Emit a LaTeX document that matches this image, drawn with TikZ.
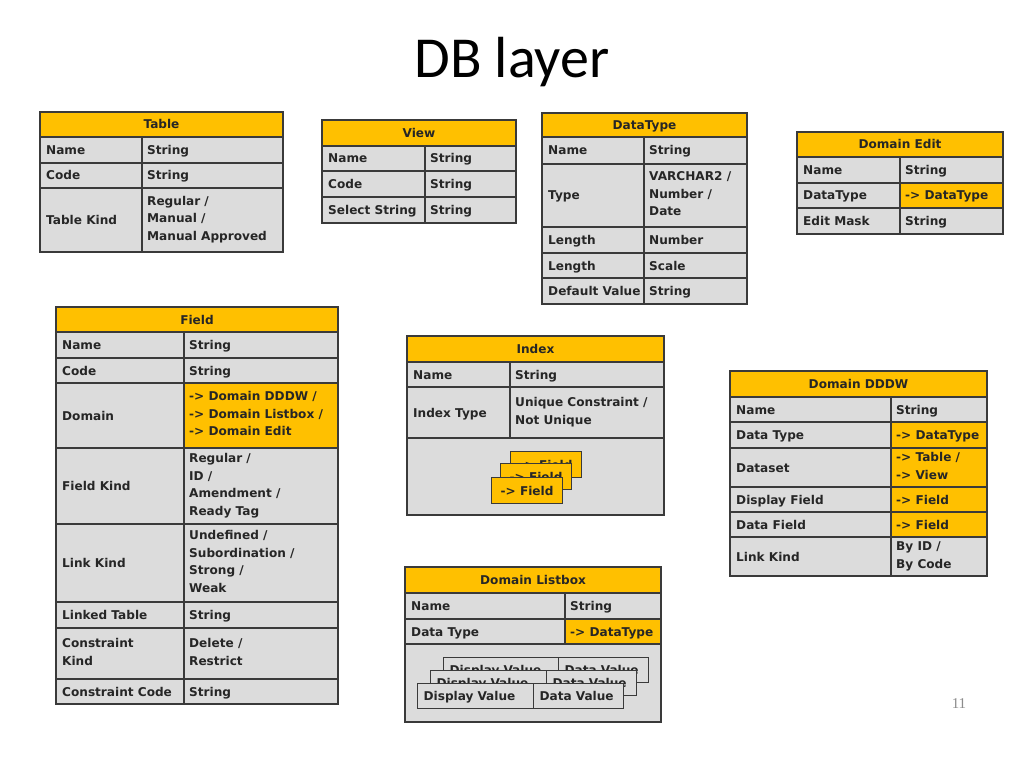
\documentclass[tikz,border=0pt]{standalone}
\usepackage{fontspec}
\setmainfont{DejaVu Sans}
\newfontfamily\titlefont{Carlito}
\newfontfamily\numfont{Liberation Serif}
\definecolor{cgray}{HTML}{DCDCDC}
\definecolor{corange}{HTML}{FFC000}
\definecolor{cline}{HTML}{3A3A3A}
\definecolor{ctext}{HTML}{262626}
\tikzset{
  tfont/.style={font=\bfseries\fontsize{12.1}{17.5}\selectfont, text=ctext},
  lbl/.style={tfont, anchor=west, inner sep=0pt, align=left, execute at begin node=\strut, execute at end node=\strut},
  hdrtxt/.style={tfont, inner sep=0pt, execute at begin node=\strut, execute at end node=\strut},
  sep/.style={draw=cline, line width=1.3pt},
  frame/.style={draw=cline, line width=1.4pt},
  fchip/.style={tfont, draw=cline, line width=1.2pt, fill=corange, minimum width=71pt, minimum height=26pt, anchor=north west, inner sep=0pt},
  dchip/.style={tfont, draw=cline, line width=1.2pt, fill=cgray, minimum height=25pt, anchor=north west, inner sep=0pt, inner xsep=6pt, text depth=0pt},
}
% header row: id, x1, x2, y1, y2, text
\newcommand\hrow[6]{%
  \path[fill=corange] (#2,#4) rectangle (#3,#5);
  \node[hdrtxt] (#1) at ({(#2+#3)/2},{(#4+#5)/2+1}) {#6};
  \draw[sep] (#2,#5) -- (#3,#5);
}
% data row: id, x1, xs, x2, y1, y2, left, right, right fill
\newcommand\drow[9]{%
  \path[fill=cgray] (#2,#5) rectangle (#3,#6);
  \path[fill=#9] (#3,#5) rectangle (#4,#6);
  \node[lbl] (#1-k) at (#2+6,{(#5+#6)/2+1}) {#7};
  \node[lbl] (#1-v) at (#3+5,{(#5+#6)/2+1}) {#8};
  \draw[sep] (#3,#5) -- (#3,#6);
  \draw[sep] (#2,#5) -- (#4,#5);
}
% outer frame: x1, x2, y1, y2
\newcommand\frm[4]{\draw[frame] (#1,#3) rectangle (#2,#4);}
\begin{document}
\begin{tikzpicture}[x=1pt,y=-1pt]
\useasboundingbox (0,0) rectangle (1024,767);
\fill[white] (0,0) rectangle (1024,767);

\node[anchor=base, inner sep=0pt, font=\titlefont\fontsize{58}{62}\selectfont, text=black] (title) at (512,78) {DB layer};
\node[anchor=base, inner sep=0pt, font=\numfont\fontsize{15}{17}\selectfont, text=black!45] (pagenum) at (959,708) {11};

% Table
\hrow{tbl}{40}{283}{112}{137}{Table}
\drow{tbl1}{40}{142}{283}{137}{163}{Name}{String}{cgray}
\drow{tbl2}{40}{142}{283}{163}{188}{Code}{String}{cgray}
\drow{tbl3}{40}{142}{283}{188}{252}{Table Kind}{Regular /\\Manual /\\Manual Approved}{cgray}
\frm{40}{283}{112}{252}

% View
\hrow{view}{322}{516}{120}{146}{View}
\drow{view1}{322}{425}{516}{146}{171}{Name}{String}{cgray}
\drow{view2}{322}{425}{516}{171}{197}{Code}{String}{cgray}
\drow{view3}{322}{425}{516}{197}{223}{Select String}{String}{cgray}
\frm{322}{516}{120}{223}

% DataType
\hrow{dt}{542}{747}{113}{137}{DataType}
\drow{dt1}{542}{644}{747}{137}{164}{Name}{String}{cgray}
\drow{dt2}{542}{644}{747}{164}{227}{Type}{VARCHAR2 /\\Number /\\Date}{cgray}
\drow{dt3}{542}{644}{747}{227}{253}{Length}{Number}{cgray}
\drow{dt4}{542}{644}{747}{253}{278}{Length}{Scale}{cgray}
\drow{dt5}{542}{644}{747}{278}{304}{Default Value}{String}{cgray}
\frm{542}{747}{113}{304}

% Domain Edit
\hrow{de}{797}{1003}{132}{157}{Domain Edit}
\drow{de1}{797}{900}{1003}{157}{183}{Name}{String}{cgray}
\drow{de2}{797}{900}{1003}{183}{208}{DataType}{-> DataType}{corange}
\drow{de3}{797}{900}{1003}{208}{234}{Edit Mask}{String}{cgray}
\frm{797}{1003}{132}{234}

% Field
\hrow{fld}{56}{338}{307}{332}{Field}
\drow{fld1}{56}{184}{338}{332}{358}{Name}{String}{cgray}
\drow{fld2}{56}{184}{338}{358}{383}{Code}{String}{cgray}
\drow{fld3}{56}{184}{338}{383}{448}{Domain}{-> Domain DDDW /\\-> Domain Listbox /\\-> Domain Edit}{corange}
\drow{fld4}{56}{184}{338}{448}{524}{Field Kind}{Regular /\\ID /\\Amendment /\\Ready Tag}{cgray}
\drow{fld5}{56}{184}{338}{524}{602}{Link Kind}{Undefined /\\Subordination /\\Strong /\\Weak}{cgray}
\drow{fld6}{56}{184}{338}{602}{628}{Linked Table}{String}{cgray}
\drow{fld7}{56}{184}{338}{628}{679}{Constraint\\Kind}{Delete /\\Restrict}{cgray}
\drow{fld8}{56}{184}{338}{679}{704}{Constraint Code}{String}{cgray}
\frm{56}{338}{307}{704}

% Index
\hrow{idx}{407}{664}{336}{362}{Index}
\drow{idx1}{407}{510}{664}{362}{387}{Name}{String}{cgray}
\drow{idx2}{407}{510}{664}{387}{438}{Index Type}{Unique Constraint /\\Not Unique}{cgray}
\path[fill=cgray] (407,438) rectangle (664,515);
\draw[sep] (407,438) -- (664,438);
\node[fchip] (idxc3) at (510,451) {-> Field};
\node[fchip] (idxc2) at (500,463) {-> Field};
\node[fchip] (idxc1) at (491,477) {-> Field};
\frm{407}{664}{336}{515}

% Domain DDDW
\hrow{dd}{730}{987}{371}{397}{Domain DDDW}
\drow{dd1}{730}{891}{987}{397}{422}{Name}{String}{cgray}
\drow{dd2}{730}{891}{987}{422}{448}{Data Type}{-> DataType}{corange}
\drow{dd3}{730}{891}{987}{448}{487}{Dataset}{-> Table /\\-> View}{corange}
\drow{dd4}{730}{891}{987}{487}{512}{Display Field}{-> Field}{corange}
\drow{dd5}{730}{891}{987}{512}{537}{Data Field}{-> Field}{corange}
\drow{dd6}{730}{891}{987}{537}{576}{Link Kind}{By ID /\\By Code}{cgray}
\frm{730}{987}{371}{576}

% Domain Listbox
\hrow{lb}{405}{661}{567}{593}{Domain Listbox}
\drow{lb1}{405}{565}{661}{593}{619}{Name}{String}{cgray}
\drow{lb2}{405}{565}{661}{619}{644}{Data Type}{-> DataType}{corange}
\path[fill=cgray] (405,644) rectangle (661,722);
\draw[sep] (405,644) -- (661,644);
\node[dchip, minimum width=115pt, text width=103pt] (lbd3) at (443,657) {Display Value};
\node[dchip, minimum width=90pt, text width=78pt, inner xsep=5pt] (lbv3) at (558,657) {Data Value};
\node[dchip, minimum width=116pt, text width=104pt] (lbd2) at (430,670) {Display Value};
\node[dchip, minimum width=90pt, text width=78pt, inner xsep=5pt] (lbv2) at (546,670) {Data Value};
\node[dchip, minimum width=116pt, text width=104pt] (lbd1) at (417,683) {Display Value};
\node[dchip, minimum width=90pt, text width=78pt, inner xsep=5pt] (lbv1) at (533,683) {Data Value};
\frm{405}{661}{567}{722}
\end{tikzpicture}
\end{document}
